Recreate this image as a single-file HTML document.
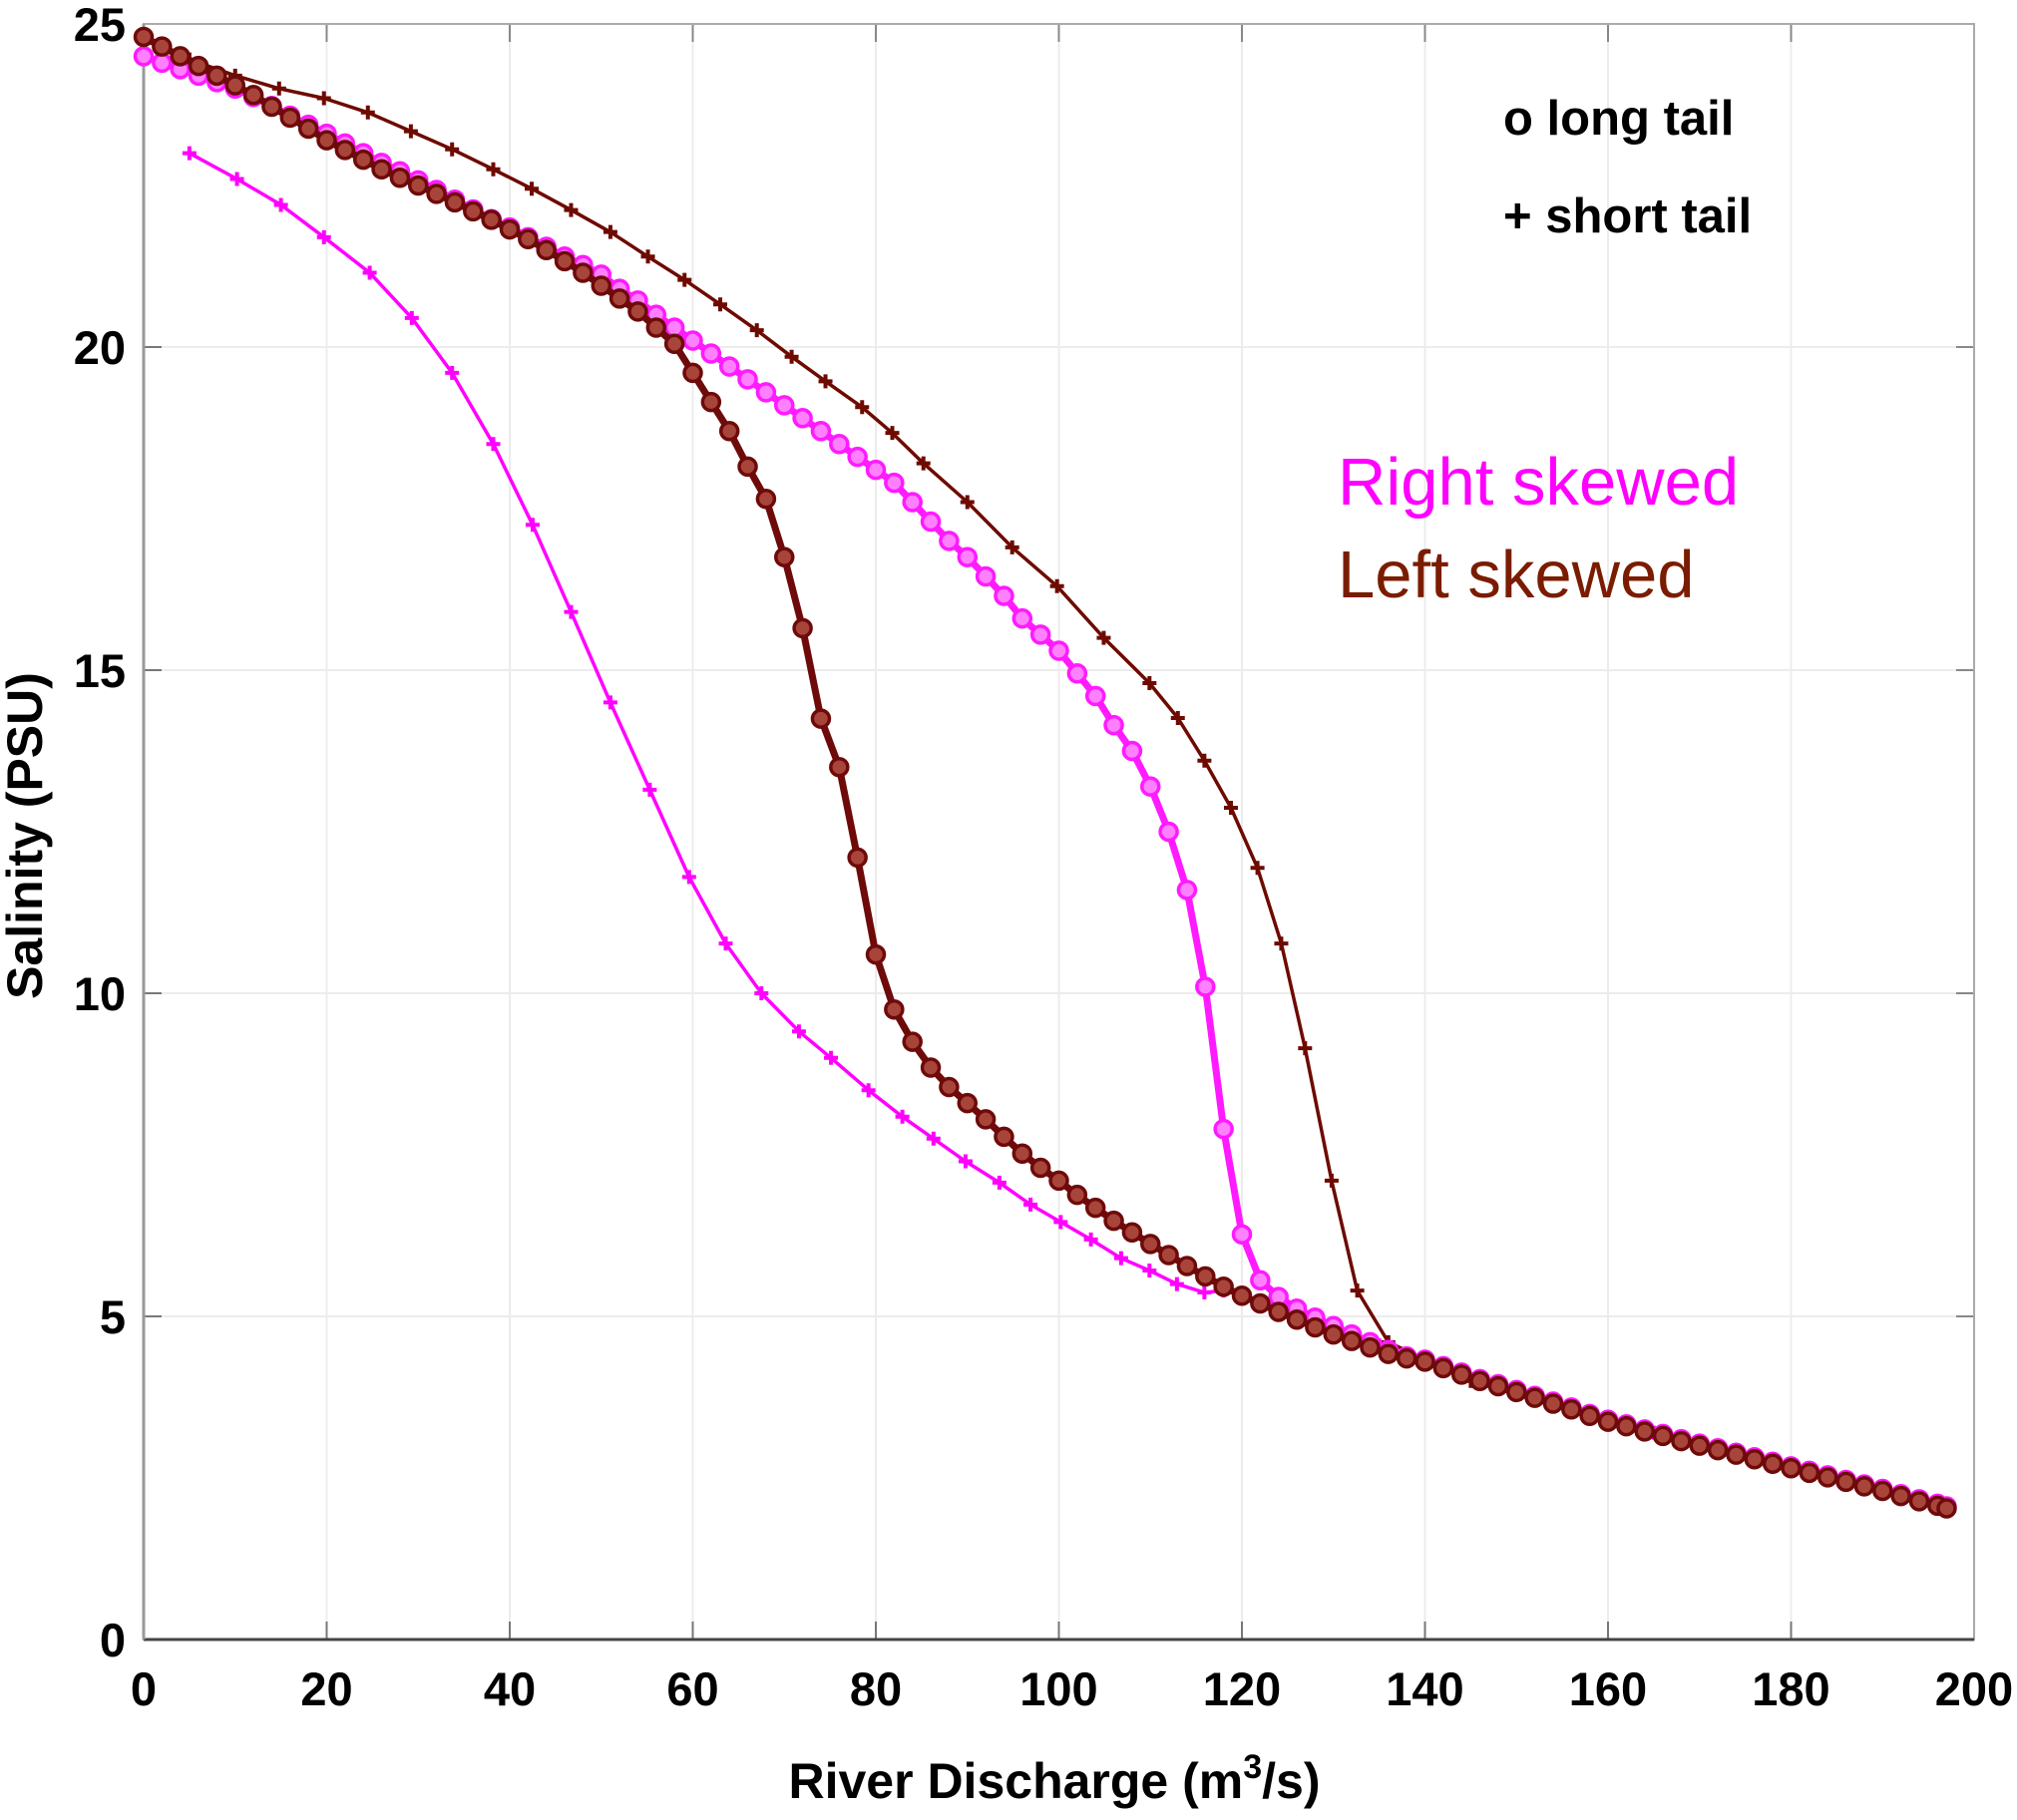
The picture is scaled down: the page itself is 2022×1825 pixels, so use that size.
<!DOCTYPE html>
<html><head><meta charset="utf-8"><style>
html,body{margin:0;padding:0;background:#fff;}
svg{display:block;font-family:"Liberation Sans",Arial,sans-serif;}
</style></head><body>
<svg id="chart" width="2022" height="1825" viewBox="0 0 2022 1825">
<rect x="0" y="0" width="2022" height="1825" fill="#fff"/>
<g id="grid"></g>
<g id="axes"></g>
<g id="series"></g>
<text x="1507" y="135" font-size="49" font-weight="bold" fill="#000">o long tail</text>
<text x="1507" y="233" font-size="49" font-weight="bold" fill="#000">+ short tail</text>
<text x="1341" y="506" font-size="67" fill="#ff00ff">Right skewed</text>
<text x="1341" y="599" font-size="67" fill="#7a1c00">Left skewed</text>
<text x="1057" y="1803" font-size="50" font-weight="bold" text-anchor="middle">River Discharge (m<tspan dy="-20" font-size="34">3</tspan><tspan dy="20">/s)</tspan></text>
<text transform="translate(42,838) rotate(-90)" font-size="50" font-weight="bold" text-anchor="middle">Salinity (PSU)</text>
</svg>
<script>
const xTicks = [0,20,40,60,80,100,120,140,160,180,200];
const yTicks = [0,5,10,15,20,25];

const longX = Array.from({length:99},(_,i)=>i*2).concat([197]);
const leftLongY = [24.8,24.65,24.5,24.35,24.2,24.05,23.9,23.72,23.55,23.38,23.2,23.05,22.9,22.75,22.62,22.5,22.37,22.24,22.1,21.97,21.82,21.67,21.5,21.33,21.15,20.95,20.75,20.55,20.3,20.05,19.6,19.15,18.7,18.15,17.65,16.75,15.65,14.25,13.5,12.1,10.6,9.75,9.25,8.85,8.55,8.3,8.05,7.78,7.52,7.3,7.1,6.88,6.68,6.48,6.3,6.12,5.95,5.78,5.62,5.46,5.32,5.2,5.07,4.95,4.83,4.72,4.62,4.52,4.42,4.35,4.3,4.2,4.1,4.0,3.92,3.83,3.74,3.65,3.56,3.46,3.37,3.3,3.22,3.15,3.07,3.0,2.93,2.86,2.79,2.72,2.65,2.58,2.51,2.44,2.37,2.3,2.22,2.14,2.07,2.03];
const rightLongY = [24.5,24.4,24.3,24.2,24.1,24.0,23.87,23.73,23.58,23.44,23.3,23.15,23.0,22.85,22.72,22.58,22.43,22.28,22.13,21.98,21.85,21.7,21.55,21.4,21.27,21.12,20.9,20.72,20.5,20.3,20.1,19.9,19.7,19.5,19.3,19.1,18.9,18.7,18.5,18.3,18.1,17.9,17.6,17.3,17.0,16.75,16.45,16.15,15.8,15.55,15.3,14.95,14.6,14.15,13.75,13.2,12.5,11.6,10.1,7.9,6.27,5.56,5.3,5.12,4.98,4.85,4.72,4.6,4.48,4.38,4.33,4.23,4.13,4.03,3.95,3.86,3.77,3.68,3.59,3.49,3.4,3.33,3.25,3.18,3.1,3.03,2.96,2.89,2.82,2.75,2.68,2.61,2.54,2.47,2.4,2.33,2.25,2.17,2.1,2.06];

const rightShortX = [5,10.2,15,19.7,24.7,29.3,33.7,38.2,42.5,46.7,51,55.3,59.6,63.6,67.5,71.6,75.1,79.2,82.9,86.3,89.8,93.5,96.9,100.2,103.5,106.8,109.9,112.9,115.9,118,125,135,150,165,180,197];
const rightShortY = [23.0,22.6,22.2,21.7,21.15,20.45,19.6,18.5,17.25,15.9,14.5,13.15,11.8,10.77,10.0,9.41,9.0,8.5,8.09,7.75,7.4,7.07,6.73,6.46,6.19,5.9,5.71,5.5,5.37,5.4,5.12,4.55,3.85,3.2,2.67,2.05];

const leftShortX = [0,5,10,14.8,19.7,24.5,29.2,33.7,38.2,42.4,46.7,51,55.1,59.1,63,67,70.8,74.5,78.5,81.8,85.2,90,94.9,99.8,104.9,109.9,113,115.9,118.8,121.7,124.3,126.9,129.8,132.6,136,145,160,180,197];
const leftShortY = [24.75,24.45,24.2,24.0,23.85,23.63,23.34,23.06,22.75,22.45,22.12,21.78,21.4,21.04,20.66,20.26,19.85,19.47,19.07,18.67,18.2,17.6,16.9,16.3,15.5,14.8,14.26,13.6,12.87,11.94,10.77,9.15,7.1,5.4,4.6,4.0,3.37,2.65,2.03];

const X0=144, X1=1979, Y0=1644, Y1=24;
function sx(v){return X0+(v-0)/200*(X1-X0);}
function sy(v){return Y0-(v-0)/25*(Y0-Y1);}
const NS="http://www.w3.org/2000/svg";
function mk(tag,attrs,parent){const e=document.createElementNS(NS,tag);for(const k in attrs)e.setAttribute(k,attrs[k]);parent.appendChild(e);return e;}

const grid=document.getElementById('grid'), axes=document.getElementById('axes'), ser=document.getElementById('series');
xTicks.forEach(t=>{
  const g=mk('line',{x1:sx(t),x2:sx(t),y1:Y1,y2:Y0,stroke:'#ececec','stroke-width':2},grid);
  
  
  const tk=mk('line',{x1:sx(t),x2:sx(t),y1:Y0,y2:Y0-18,stroke:'#777','stroke-width':2},axes);
  
  
  const tk2=mk('line',{x1:sx(t),x2:sx(t),y1:Y1,y2:Y1+18,stroke:'#888','stroke-width':2},axes);
  
  
  const lb=mk('text',{x:sx(t),y:1710,'font-size':47,'font-weight':'bold','text-anchor':'middle'},axes);
  lb.textContent=t;
  
  
});
yTicks.forEach(t=>{
  const g=mk('line',{x1:X0,x2:X1,y1:sy(t),y2:sy(t),stroke:'#ececec','stroke-width':2},grid);
  
  
  const tk=mk('line',{x1:X0,x2:X0+18,y1:sy(t),y2:sy(t),stroke:'#777','stroke-width':2},axes);
  
  
  const tk2=mk('line',{x1:X1,x2:X1-18,y1:sy(t),y2:sy(t),stroke:'#888','stroke-width':2},axes);
  
  
  const lb=mk('text',{x:126,y:sy(t)+17,'font-size':47,'font-weight':'bold','text-anchor':'end'},axes);
  lb.textContent=t;
  
  
});
const box=mk('rect',{x:X0,y:Y1,width:X1-X0,height:Y0-Y1,fill:'none',stroke:'#aaa','stroke-width':2},axes);


const xa=mk('line',{x1:X0,x2:X1,y1:Y0,y2:Y0,stroke:'#444','stroke-width':3},axes);


const ya=mk('line',{x1:X0,x2:X0,y1:Y1,y2:Y0,stroke:'#999','stroke-width':3},axes);



function drawSeries(xs,ys,color,fill,marker,name,lw){
  const g=mk('g',{},ser);
  
  
  const d=xs.map((x,i)=>(i?'L':'M')+sx(x).toFixed(1)+' '+sy(ys[i]).toFixed(1)).join(' ');
  const p=mk('path',{d:d,fill:'none',stroke:color,'stroke-width':lw,'stroke-linejoin':'round','stroke-linecap':'round'},g);
  
  
  xs.forEach((x,i)=>{
    let m;
    if(marker==='o'){
      m=mk('circle',{cx:sx(x),cy:sy(ys[i]),r:8.5,fill:fill,stroke:color,'stroke-width':3.5},g);
    } else {
      const cx=sx(x), cy=sy(ys[i]);
      m=mk('path',{d:`M${cx-7} ${cy}L${cx+7} ${cy}M${cx} ${cy-7}L${cx} ${cy+7}`,stroke:color,'stroke-width':4},g);
    }
    
    
  });
}
drawSeries(rightShortX,rightShortY,'#ff00ff','#ff00ff','+','right-skewed-short-tail',3.5);
drawSeries(leftShortX,leftShortY,'#6e0a00','#6e0a00','+','left-skewed-short-tail',3.5);
drawSeries(longX,rightLongY,'#ff1aff','#ff80ff','o','right-skewed-long-tail',7);
drawSeries(longX,leftLongY,'#6e0a0a','#a8453a','o','left-skewed-long-tail',7);
</script>
</body></html>
